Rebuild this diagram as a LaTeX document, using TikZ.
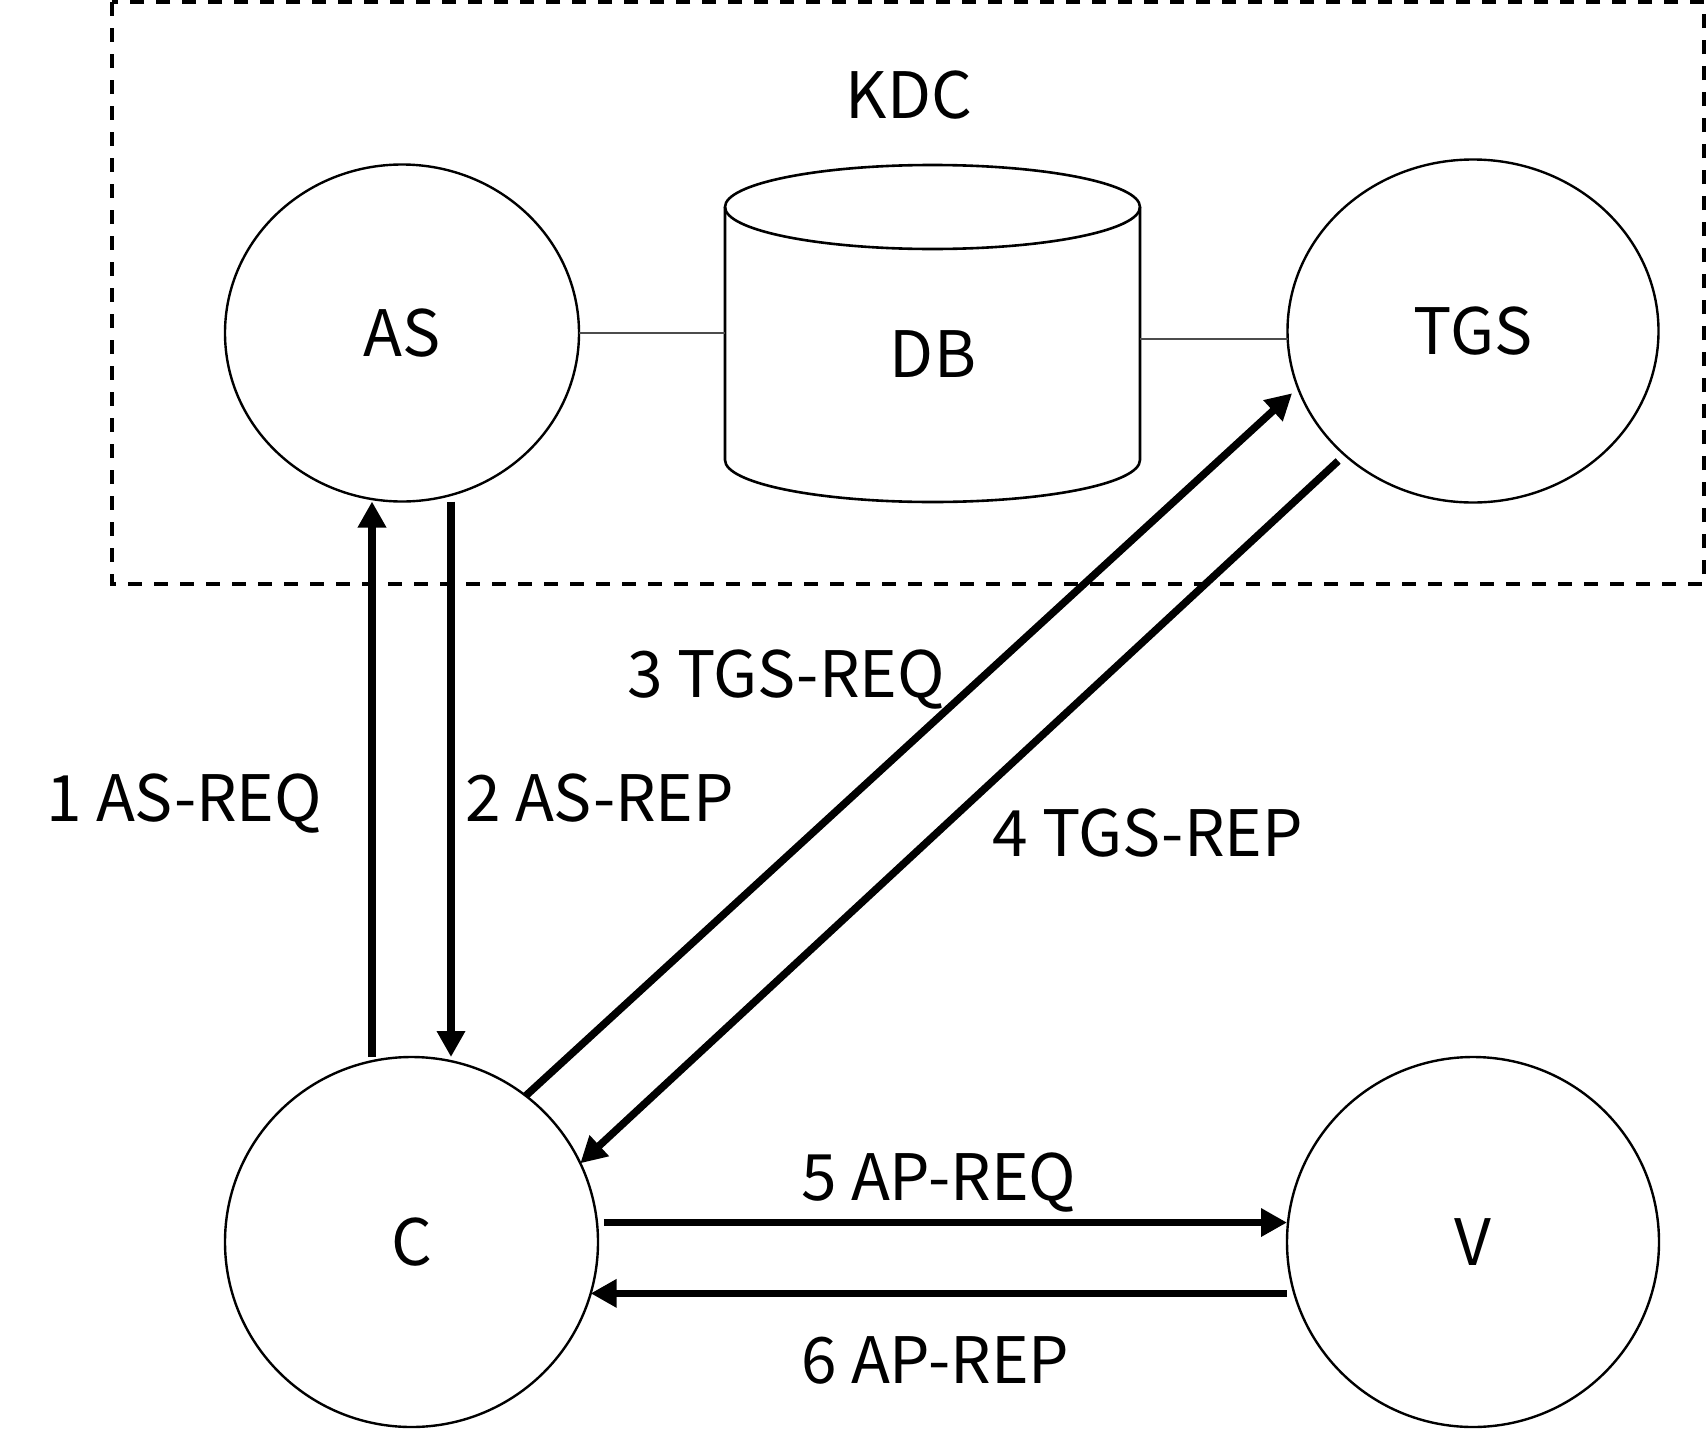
\documentclass[tikz,border=0pt]{standalone}
\usepackage{fontspec}
\setmainfont{Noto Sans CJK SC}
\usetikzlibrary{arrows.meta,shapes.geometric,calc}
\begin{document}
\begin{tikzpicture}[x=1pt,y=-1pt,
  circ/.style={draw,ellipse,line width=2.4pt,inner sep=0pt,outer sep=0pt},
  arr/.style={line width=7.5pt,-{Triangle[length=26pt,width=27pt]}},
  link/.style={line width=2pt,draw=black!70},
  lbl/.style={anchor=base west,inner sep=0pt},
  txt/.style={anchor=base,inner sep=0pt},
  font=\fontsize{64pt}{76pt}\selectfont]
\useasboundingbox (0,0) rectangle (1706,1440);
% KDC dashed frame
\draw[line width=3.3pt,dash pattern=on 14pt off 12pt] (112,2) rectangle (1704,584);
\node[txt] (kdc) at (909,118) {KDC};
% nodes
\node[circ,minimum width=354pt,minimum height=337pt] (as) at (402,333) {AS};
\node[circ,minimum width=371pt,minimum height=343pt] (tgs) at (1473,331) {TGS};
\node[circ,minimum width=373pt,minimum height=370pt] (c) at (411.5,1242) {C};
\node[circ,minimum width=372pt,minimum height=370pt] (v) at (1473,1242) {V};
% database cylinder
\node[inner sep=0pt,outer sep=0pt,minimum width=415pt,minimum height=337pt] (db) at (932.5,333.5) {};
\draw[line width=2.6pt] (932.5,207) ellipse [x radius=207.5, y radius=42];
\draw[line width=2.6pt] (725,207) -- (725,460) arc[start angle=180,end angle=0,x radius=207.5,y radius=42] -- (1140,207);
\node[txt] (dbl) at (933,377) {DB};
% thin links
\draw[link] (as.east) -- (as.east -| db.west);
\draw[link] ([yshift=-5.5pt]db.east) -- ([yshift=-5.5pt]db.east -| tgs.west);
% arrows
\coordinate (x1) at (372,0);
\coordinate (x2) at (451,0);
\draw[arr] (c.north -| x1) -- (as.south -| x1);
\draw[arr] (as.south -| x2) -- (c.north -| x2);
\draw[arr,shorten >=8pt] (c.52) -- (tgs.198);
\draw[arr,shorten <=9pt] (tgs.224) -- (c.25);
\draw[arr] ([xshift=7pt]c.6.5) -- (c.6.5 -| v.west);
\draw[arr] (c.-16 -| v.west) -- (c.-16);
% labels
\node[lbl] (l1) at (46,821) {1 AS-REQ};
\node[lbl] (l2) at (465,821) {2 AS-REP};
\node[lbl] (l3) at (627,697) {3 TGS-REQ};
\node[lbl] (l4) at (992,856) {4 TGS-REP};
\node[lbl] (l5) at (801,1200) {5 AP-REQ};
\node[lbl] (l6) at (801,1383) {6 AP-REP};
\end{tikzpicture}
\end{document}
